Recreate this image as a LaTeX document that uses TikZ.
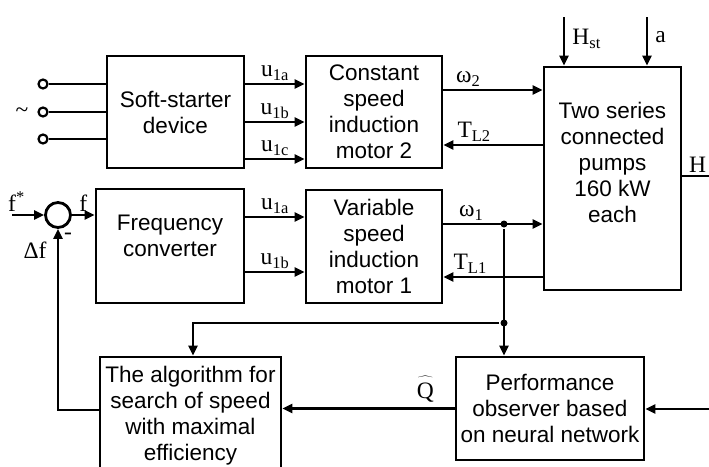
\documentclass[tikz,border=0pt]{standalone}
\usepackage{fontspec}
\setmainfont{Liberation Serif}
\setsansfont{Liberation Sans}
\usetikzlibrary{calc,positioning,arrows.meta}

\tikzset{
  block/.style={draw, line width=2.8pt, inner sep=0pt, align=center,
    font=\sffamily\fontsize{22.5}{26}\selectfont},
  txt/.style={align=center, inner sep=0pt, font=\sffamily\fontsize{22.5}{26}\selectfont},
  lab/.style={font=\fontsize{23.5}{25}\selectfont, inner sep=2pt},
  terminal/.style={circle, draw, line width=2.2pt, fill=white, minimum size=9pt, inner sep=0pt},
  joint/.style={circle, fill, minimum size=7pt, inner sep=0pt}
}

\begin{document}
\begin{tikzpicture}[x=1pt, y=-1pt, line width=2.8pt, >={Triangle[length=10pt,width=9pt]}]
    \useasboundingbox (0,0) rectangle (709,466);
    \node[block, minimum width=137, minimum height=112] (ss) at (175.5,112) {Soft-starter\\device};
    \node[block, minimum width=136, minimum height=112] (cm) at (374,112) {Constant\\speed\\induction\\motor 2};
    \node[block, minimum width=148, minimum height=114] (fc) at (170,246) {};
    \node[txt] at ($(fc)+(0,-10)$) {Frequency\\converter};
    \node[block, minimum width=136, minimum height=113] (vm) at (374,246.5) {Variable\\speed\\induction\\motor 1};
    \node[block, minimum width=137, minimum height=223] (pumps) at (612.5,178.5) {};
    \node[txt] at ($(pumps)+(0,-16.5)$) {Two series\\connected\\pumps\\160 kW\\each};
    \node[block, minimum width=188, minimum height=103] (obs) at (550,408.5) {Performance\\observer based\\on neural network};
    \node[block, minimum width=181, minimum height=118] (alg) at (190.5,416) {The algorithm for\\search of speed\\with maximal\\efficiency};
    \node[circle, draw, minimum size=25pt, inner sep=0pt] (sum) at (58,215) {};

    \node[terminal] (t1) at (43,84) {};
    \node[terminal] (t2) at (43,112) {};
    \node[terminal] (t3) at (43,139) {};
    \node[lab] (ac) at ($(t2)+(-21,1)$) {\textasciitilde};
    \draw (t1) -- (t1 -| ss.west);
    \draw (t2) -- (t2 -| ss.west);
    \draw (t3) -- (t3 -| ss.west);

    \draw[->] ([yshift=28pt]ss.east) -- node[lab,above]{u\textsubscript{1a}} ([yshift=28pt]cm.west);
    \draw[->] ([yshift=-10pt]ss.east) -- node[lab,above]{u\textsubscript{1b}} ([yshift=-10pt]cm.west);
    \draw[->] ([yshift=-47pt]ss.east) -- node[lab,above]{u\textsubscript{1c}} ([yshift=-47pt]cm.west);
    \draw[->] ([yshift=29pt]fc.east) -- node[lab,above]{u\textsubscript{1a}} ([yshift=29pt]fc.east -| vm.west);
    \draw[->] ([yshift=-26pt]fc.east) -- node[lab,above]{u\textsubscript{1b}} ([yshift=-26pt]fc.east -| vm.west);

    \coordinate (w2) at ([yshift=22pt]cm.east);
    \coordinate (tl2) at ([yshift=-33pt]cm.east);
    \coordinate (w1) at ([yshift=22.5pt]vm.east);
    \coordinate (tl1) at ([yshift=-30.5pt]vm.east);
    \draw[->] (w2) -- node[lab,above,pos=0.25]{ω\textsubscript{2}} (w2 -| pumps.west);
    \draw[<-] (tl2) -- node[lab,above,pos=0.31]{T\textsubscript{L2}} (tl2 -| pumps.west);
    \draw[->] (w1) -- node[lab,above,pos=0.28]{ω\textsubscript{1}} (w1 -| pumps.west);
    \draw[<-] (tl1) -- node[lab,above,pos=0.27]{T\textsubscript{L1}} (tl1 -| pumps.west);

    \coordinate (hst) at (564,17);
    \coordinate (ain) at (647,17);
    \draw[->] (hst) -- node[lab,right=5pt,pos=0.45]{H\textsubscript{st}} (hst |- pumps.north);
    \draw[->] (ain) -- node[lab,right=5pt,pos=0.42]{a} (ain |- pumps.north);
    \coordinate (hout) at (709,176);
    \draw (hout -| pumps.east) -- node[lab,above,xshift=2pt]{H} (hout);

    \node[joint] (j1) at (504,224) {};
    \node[joint] (j2) at (504,323) {};
    \draw[->] (j1) -- (j1 |- obs.north);
    \draw[->] (j2) -| ([xshift=2.5pt]alg.north);

    \coordinate (qin) at (709,409);
    \draw[->] (qin) -- (qin -| obs.east);
    \draw[->] (obs.west) -- node[lab,above=3pt,pos=0.17]{$\widehat{\hspace{3pt}\mathrm{Q}\hspace{3pt}\rule{0pt}{19pt}}$} (obs.west -| alg.east);
    \draw[->] ([yshift=6pt]alg.west) -| (sum.south);

    \coordinate (fin) at (12,215);
    \draw[->] (fin) -- node[lab,above,pos=0.14]{f\textsuperscript{*}} (sum.west);
    \draw[->] (sum.east) -- node[lab,above]{f} (sum.east -| fc.west);
    \node[lab] (minus) at ($(sum)+(10,21)$) {-};
    \node[lab] (df) at ($(sum)+(-23,35)$) {Δf};
\end{tikzpicture}
\end{document}
